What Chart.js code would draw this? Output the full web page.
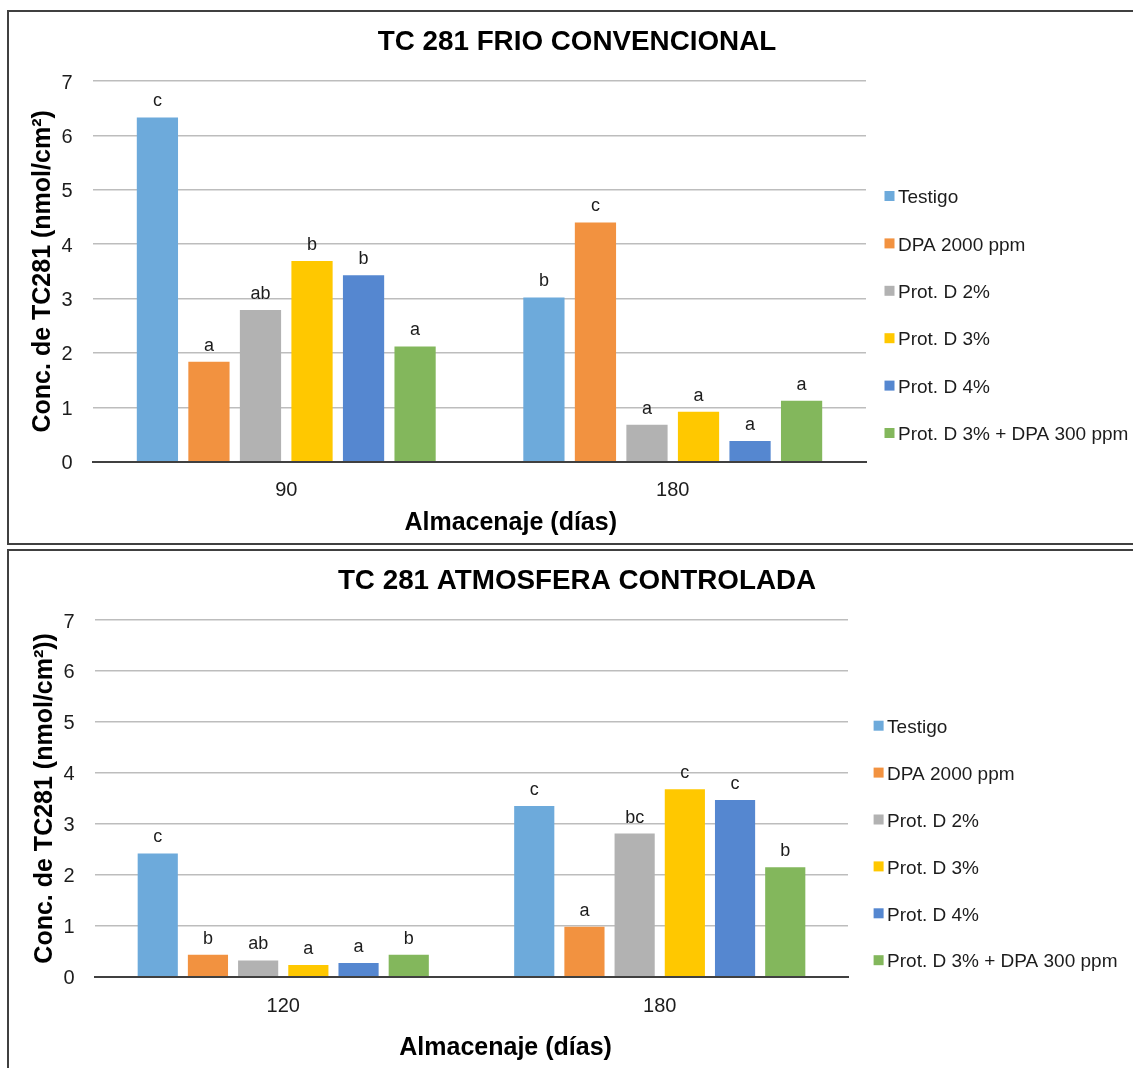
<!DOCTYPE html>
<html lang="es">
<head>
<meta charset="utf-8">
<title>TC 281 – Conc. de TC281</title>
<script src="https://cdn.jsdelivr.net/npm/chart.js@4/dist/chart.umd.min.js"></script>
<style>
  html, body { margin: 0; padding: 0; background: #fff; overflow: hidden; }
  body { width: 1133px; height: 1068px; position: relative; }
  .marco { position: absolute; left: 7px; width: 1200px; border: 2px solid #404040; box-sizing: border-box; background: #fff; }
  #marcoFrio { top: 10px; height: 535px; }
  #marcoAC { top: 549px; height: 600px; }
  .marco canvas { position: absolute; left: 0; top: 0; }
</style>
</head>
<body>
<div class="marco" id="marcoFrio"><canvas id="graficoFrio" width="1136" height="531"></canvas></div>
<div class="marco" id="marcoAC"><canvas id="graficoAC" width="1136" height="517"></canvas></div>
<script>
// Tratamientos (una serie por tratamiento)
const tratamientos = ['Testigo', 'DPA 2000 ppm', 'Prot. D 2%', 'Prot. D 3%', 'Prot. D 4%', 'Prot. D 3% + DPA 300 ppm'];
const coloresTratamiento = ['#6DAADB', '#F29240', '#B2B2B2', '#FFC800', '#5587D0', '#83B75C'];

// Frío convencional: días de almacenaje, concentración por tratamiento y letras de significancia
const frioDias = ['90', '180'];
const frioConc = [
  [6.33, 3.02],
  [1.84, 4.40],
  [2.79, 0.68],
  [3.69, 0.92],
  [3.43, 0.38],
  [2.12, 1.12]
];
const frioLetras = [
  ['c', 'b'],
  ['a', 'c'],
  ['ab', 'a'],
  ['b', 'a'],
  ['b', 'a'],
  ['a', 'a']
];

// Atmósfera controlada
const acDias = ['120', '180'];
const acConc = [
  [2.42, 3.35],
  [0.43, 0.98],
  [0.32, 2.81],
  [0.23, 3.68],
  [0.27, 3.47],
  [0.43, 2.15]
];
const acLetras = [
  ['c', 'c'],
  ['b', 'a'],
  ['ab', 'bc'],
  ['a', 'c'],
  ['a', 'c'],
  ['b', 'b']
];

// Eje Y común
const ejeYMin = 0;
const ejeYMax = 7;
const ejeYPaso = 1;

const FUENTE = '"Liberation Sans", Arial, Helvetica, sans-serif';
const TEXTO = '#1c1c1c';

Chart.defaults.font.family = FUENTE;
Chart.defaults.color = TEXTO;

// Letras de significancia sobre cada barra
const letrasPlugin = {
  id: 'letras',
  afterDatasetsDraw(chart, args, opts) {
    const ctx = chart.ctx;
    ctx.save();
    ctx.font = '18px ' + FUENTE;
    ctx.fillStyle = TEXTO;
    ctx.textAlign = 'center';
    ctx.textBaseline = 'alphabetic';
    chart.data.datasets.forEach((ds, i) => {
      const meta = chart.getDatasetMeta(i);
      meta.data.forEach((barra, j) => {
        ctx.fillText(ds.letras[j], barra.x, barra.y - opts.separacion);
      });
    });
    ctx.restore();
  }
};

// Leyenda lateral con cuadros de color
const leyendaPlugin = {
  id: 'leyendaLateral',
  afterDraw(chart, args, o) {
    const { ctx, chartArea } = chart;
    ctx.save();
    ctx.font = '19px ' + FUENTE;
    ctx.textAlign = 'left';
    ctx.textBaseline = 'middle';
    chart.data.datasets.forEach((ds, i) => {
      const cy = chartArea.top + o.arriba + i * o.paso;
      const x = chartArea.right + o.izquierda;
      ctx.fillStyle = ds.backgroundColor;
      ctx.fillRect(x, cy - 5, 10, 10);
      ctx.fillStyle = TEXTO;
      ctx.fillText(ds.label, x + 13.5, cy + 2);
    });
    ctx.restore();
  }
};

// Título del eje X
const tituloXPlugin = {
  id: 'tituloX',
  afterDraw(chart, args, o) {
    const ctx = chart.ctx;
    ctx.save();
    ctx.font = 'bold 25px ' + FUENTE;
    ctx.fillStyle = '#000';
    ctx.textAlign = 'center';
    ctx.textBaseline = 'middle';
    ctx.fillText(o.texto, o.x, o.y);
    ctx.restore();
  }
};

function crearGrafico(idCanvas, cfg) {
  const datasets = tratamientos.map((nombre, i) => ({
    label: nombre,
    data: cfg.conc[i],
    letras: cfg.letras[i],
    backgroundColor: coloresTratamiento[i],
    borderWidth: 0,
    categoryPercentage: 0.8,
    barPercentage: 0.8,
    yAxisID: 'y',
    xAxisID: 'x'
  }));

  return new Chart(document.getElementById(idCanvas), {
    type: 'bar',
    data: { labels: cfg.dias, datasets },
    plugins: [letrasPlugin, leyendaPlugin, tituloXPlugin],
    options: {
      responsive: false,
      animation: false,
      devicePixelRatio: 1,
      layout: { padding: 0 },
      plugins: {
        legend: { display: false },
        tooltip: { enabled: false },
        title: {
          display: true,
          text: cfg.titulo,
          color: '#000',
          font: { size: 27.8, weight: 'bold', lineHeight: 1.2 },
          padding: { top: cfg.tituloArriba, bottom: cfg.tituloAbajo }
        },
        letras: { separacion: 11 },
        leyendaLateral: cfg.leyenda,
        tituloX: { texto: 'Almacenaje (días)', x: cfg.tituloX[0], y: cfg.tituloX[1] }
      },
      scales: {
        x: {
          z: 1,
          grid: { display: false, drawTicks: false },
          border: { display: true, color: '#404040', width: 2 },
          ticks: { padding: cfg.padTickX, font: { size: 20 }, color: TEXTO },
          afterFit(s) { s.height = cfg.altoEjeX; }
        },
        y: {
          min: ejeYMin,
          max: ejeYMax,
          ticks: { stepSize: ejeYPaso, padding: 20.5, labelOffset: 2, font: { size: 20 }, color: TEXTO },
          grid: { color: '#bdbdbd', lineWidth: 1.5, drawTicks: false },
          border: { display: false },
          title: {
            display: true,
            text: cfg.tituloY,
            color: '#000',
            font: { size: 25, weight: 'bold' },
            padding: { top: cfg.padTituloY, bottom: 0 }
          },
          afterFit(s) { s.width = cfg.anchoEjeY; }
        },
        // franja derecha reservada para la leyenda
        franjaLeyenda: {
          type: 'linear',
          position: 'right',
          display: true,
          grid: { display: false, drawTicks: false },
          border: { display: false },
          ticks: { display: false },
          afterFit(s) { s.width = cfg.anchoLeyenda; }
        }
      }
    }
  });
}

// título: 27.8px × 1.2 = 33.36 de alto; arriba + alto + abajo = 69
crearGrafico('graficoFrio', {
  titulo: 'TC 281 FRIO CONVENCIONAL',
  tituloY: 'Conc. de TC281 (nmol/cm²)',
  dias: frioDias,
  conc: frioConc,
  letras: frioLetras,
  tituloArriba: 13.8,
  tituloAbajo: 21.84,
  anchoEjeY: 84,
  padTituloY: 19,
  altoEjeX: 81.3,
  padTickX: 16.8,
  anchoLeyenda: 279,
  leyenda: { izquierda: 18.5, arriba: 115, paso: 47.4 },
  tituloX: [501.7, 511]
});

crearGrafico('graficoAC', {
  titulo: 'TC 281 ATMOSFERA CONTROLADA',
  tituloY: 'Conc. de TC281 (nmol/cm²))',
  dias: acDias,
  conc: acConc,
  letras: acLetras,
  tituloArriba: 13.6,
  tituloAbajo: 22.04,
  anchoEjeY: 86,
  padTituloY: 21,
  altoEjeX: 91.3,
  padTickX: 17.6,
  anchoLeyenda: 297,
  leyenda: { izquierda: 25.6, arriba: 105.7, paso: 46.9 },
  tituloX: [496.6, 497.6]
});
</script>
</body>
</html>
